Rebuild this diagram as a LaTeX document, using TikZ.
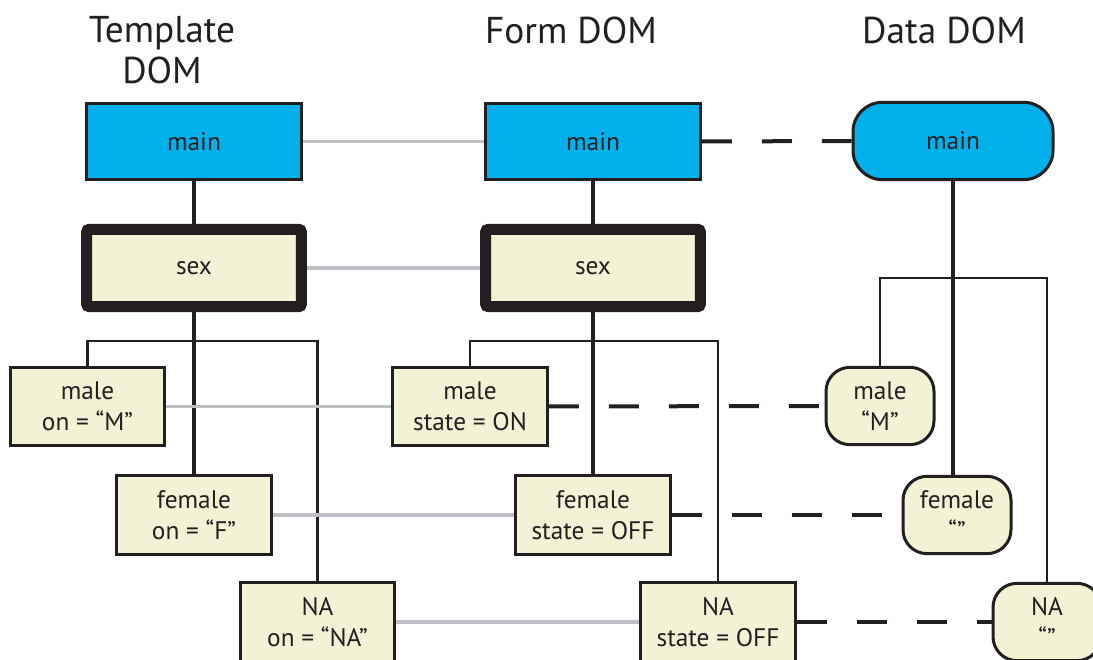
\documentclass[tikz,border=0pt]{standalone}
\usepackage{fontspec}
\setmainfont{PT Sans}
\usetikzlibrary{positioning}
\definecolor{cyanbox}{HTML}{00B0EB}
\definecolor{pale}{HTML}{F3F2D4}
\definecolor{ink}{HTML}{231F20}
\definecolor{link}{HTML}{BDC1C5}

\begin{document}
\begin{tikzpicture}[x=0.75pt,y=-0.75pt,
 hd/.style={font=\fontsize{28}{31}\selectfont,text=ink,align=center},
 b/.style={draw=ink,line width=2.25pt,fill=pale,minimum width=116pt,minimum height=59pt,inner sep=0pt,align=center,text=ink,font=\fontsize{19}{23}\selectfont},
 top/.style={b,fill=cyanbox,minimum width=161pt,minimum height=57pt},
 thick/.style={b,line width=8.25pt,rounded corners=2pt,minimum width=161pt,minimum height=58pt},
 d/.style={b,rounded corners=18pt,minimum width=81pt,minimum height=58pt},
 tl/.style={draw=ink,line width=3pt},
 bus/.style={draw=ink,line width=2pt},
 gl/.style={draw=link,line width=2.5pt},
 dl/.style={draw=ink,line width=3pt,dash pattern=on 22.5pt off 22.5pt}]
 \useasboundingbox (0,0) rectangle (1093,660);
 % headings
 \node[hd] (htpl) at (162,50) {Template\\DOM};
 \node[hd] (hform) at (571,30) {Form DOM};
 \node[hd] (hdata) at (944,30) {Data DOM};
 % template dom
 \node[top] (tmain) at (194,141.5) {main};
 \node[thick] (tsex) at (194,268) {sex};
 \node[b] (tmale) at (87.5,406.5) {male\\on = “M”};
 \node[b] (tfemale) at (194,515) {female\\on = “F”};
 \node[b] (tna) at (317.5,622) {NA\\on = “NA”};
 % form dom
 \node[top] (fmain) at (593,141.5) {main};
 \node[thick] (fsex) at (593,268) {sex};
 \node[b] (fmale) at (470,406.5) {male\\state = ON};
 \node[b] (ffemale) at (593,515) {female\\state = OFF};
 \node[b] (fna) at (718,622) {NA\\state = OFF};
 % data dom
 \node[d,fill=cyanbox,minimum width=150pt,rounded corners=22pt] (dmain) at (953,141) {main};
 \node[d] (dmale) at (880,406) {male\\“M”};
 \node[d] (dfemale) at (957,515) {female\\“”};
 \node[d] (dna) at (1047,622) {NA\\“”};
 \coordinate (tbus) at (194,341);
 \coordinate (fbus) at (593,341);
 \coordinate (dbus) at (953,278);
 % tree lines
 \foreach \a/\b in {tmain/tsex,tsex/tfemale,fmain/fsex,fsex/ffemale} \draw[tl] (\a) -- (\b);
 \draw[tl] (dmain) -- (dmain |- dfemale.north);
 \draw[bus] (tmale.north) |- (tbus) -| (tna.north);
 \draw[bus] (fmale.north) |- (fbus) -| (fna.north);
 \draw[bus] (dmale.north) |- (dbus) -| (dna.north);
 % links
 \foreach \a/\b in {tmain/fmain,tsex/fsex,tmale/fmale,tfemale/ffemale,tna/fna} \draw[gl] (\a) -- (\b);
 \foreach \a/\b in {fmain/dmain,fmale/dmale,ffemale/dfemale,fna/dna} \draw[dl] (\a) -- (\b);
\end{tikzpicture}
\end{document}
